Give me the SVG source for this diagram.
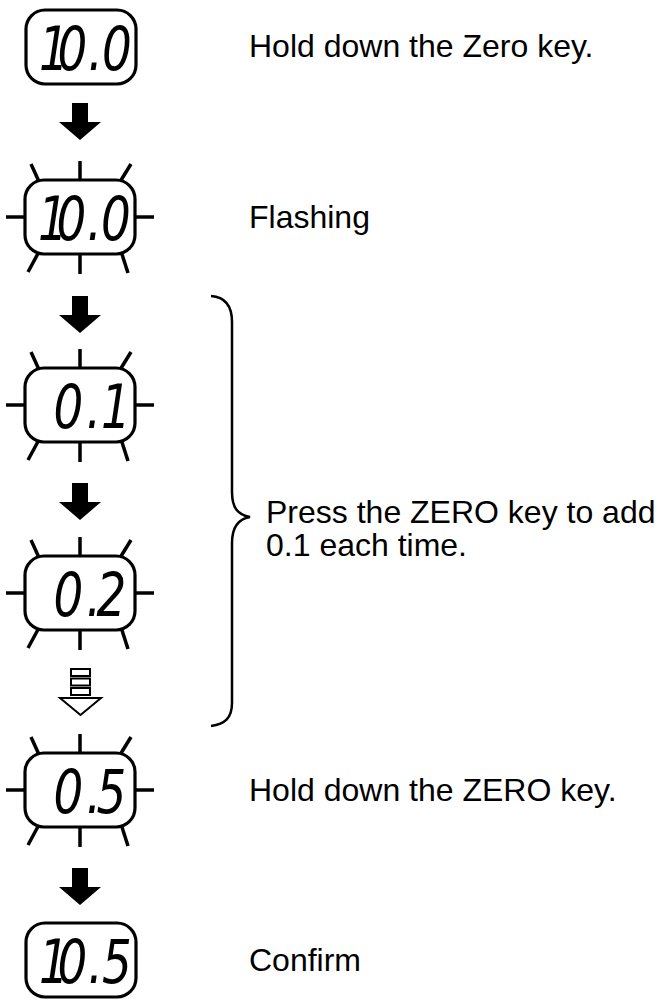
<svg xmlns="http://www.w3.org/2000/svg" xmlns:xlink="http://www.w3.org/1999/xlink" width="667" height="1001" viewBox="0 0 667 1001">
<style>
.box{fill:#fff;stroke:#000;stroke-width:3.2}
.ray{stroke:#000;stroke-width:3.5;fill:none}
.lcd{font-family:"DejaVu Sans","Liberation Sans",sans-serif;font-style:italic;font-size:60px;fill:#000}
.lbl{font-family:"Liberation Sans",Arial,sans-serif;font-size:32px;fill:#000}
.arr{fill:#000}
.hol{fill:#fff;stroke:#000;stroke-width:2}
.brace{fill:none;stroke:#000;stroke-width:2.5}
</style>
<defs>
<g id="rays">
<line class="ray" x1="0" y1="-56" x2="0" y2="-30"/>
<line class="ray" x1="0" y1="30" x2="0" y2="57"/>
<line class="ray" x1="-74" y1="0" x2="-45" y2="0"/>
<line class="ray" x1="45" y1="0" x2="74" y2="0"/>
<line class="ray" x1="-49" y1="-53" x2="-39" y2="-31"/>
<line class="ray" x1="51" y1="-53" x2="38" y2="-32"/>
<line class="ray" x1="-39" y1="31" x2="-52" y2="55"/>
<line class="ray" x1="40" y1="31" x2="48" y2="56"/>
</g>
<rect id="frame" class="box" x="-55" y="-37" width="110" height="74" rx="19"/>
<path id="down" class="arr" d="M-8,0 H8 V19 H21 L0,37 L-21,19 H-8 Z"/>
</defs>

<g id="display-1">
<use xlink:href="#frame" transform="translate(81,47)"/>
<text class="lcd" transform="translate(81,47) scale(0.78,1)" x="-54 -30 9 27" y="23">10.0</text>
<text class="lbl" x="249" y="57">Hold down the Zero key.</text>
</g>

<g id="display-2">
<use xlink:href="#rays" transform="translate(80,217)"/>
<use xlink:href="#frame" transform="translate(80,217)"/>
<text class="lcd" transform="translate(80,217) scale(0.78,1)" x="-54 -30 9 27" y="23">10.0</text>
<text class="lbl" x="249" y="228">Flashing</text>
</g>

<g id="display-3">
<use xlink:href="#rays" transform="translate(80,405)"/>
<use xlink:href="#frame" transform="translate(80,405)"/>
<text class="lcd" transform="translate(80,405) scale(0.78,1)" x="-34 8 27" y="23">0.1</text>
</g>

<g id="display-4">
<use xlink:href="#rays" transform="translate(80,593)"/>
<use xlink:href="#frame" transform="translate(80,593)"/>
<text class="lcd" transform="translate(80,593) scale(0.78,1)" x="-34 8 21" y="23">0.2</text>
</g>

<g id="display-5">
<use xlink:href="#rays" transform="translate(80,790)"/>
<use xlink:href="#frame" transform="translate(80,790)"/>
<text class="lcd" transform="translate(80,790) scale(0.78,1)" x="-34 8 21" y="23">0.5</text>
<text class="lbl" x="249" y="801">Hold down the ZERO key.</text>
</g>

<g id="display-6">
<use xlink:href="#frame" transform="translate(81,960)"/>
<text class="lcd" transform="translate(81,960) scale(0.78,1)" x="-54 -30 9 27" y="23">10.5</text>
<text class="lbl" x="249" y="971">Confirm</text>
</g>

<g id="bracket">
<path class="brace" d="M211,296 C225,297 232,305 232,322 V492 C232,508 238,515 250,517 C238,519 232,527 232,543 V703 C232,718 225,724 211,726"/>
<text class="lbl" x="266" y="523">Press the ZERO key to add</text>
<text class="lbl" x="266" y="556">0.1 each time.</text>
</g>

<g id="connectors">
<use xlink:href="#down" transform="translate(80,103)"/>
<use xlink:href="#down" transform="translate(80,296)"/>
<use xlink:href="#down" transform="translate(80,483)"/>
<g id="dotted-arrow">
<rect class="hol" x="71" y="669" width="19" height="7"/>
<rect class="hol" x="71" y="678.5" width="19" height="7"/>
<rect class="hol" x="71" y="688" width="19" height="7"/>
<path class="hol" d="M60,698 H101 L80.5,715 Z"/>
</g>
<use xlink:href="#down" transform="translate(80,868)"/>
</g>
</svg>
